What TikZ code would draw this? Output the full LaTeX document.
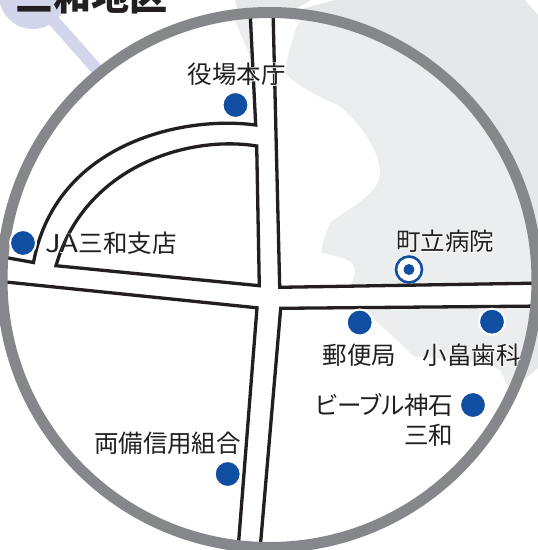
\documentclass[tikz,border=0pt]{standalone}
\usepackage{fontspec}
\setmainfont{Noto Sans CJK JP}
\definecolor{ringgray}{HTML}{85878A}
\definecolor{outergray}{HTML}{E6E7E9}
\definecolor{innergray}{HTML}{ECEDEF}
\definecolor{lav}{HTML}{D3D5EA}
\definecolor{ink}{HTML}{231F20}
\definecolor{dotblue}{HTML}{0F4EA1}
\newcommand\halotext[1]{\makebox[0pt][l]{\color{white}\addfontfeature{FakeBold=5}#1}#1}
\tikzset{
  road/.style={draw=ink,line width=3.3pt,line join=miter,miter limit=10},
  place/.style={circle,fill=dotblue,draw=white,line width=2pt,minimum size=26pt,inner sep=0pt},
  lbl/.style={inner sep=0pt,text=ink,font=\fontsize{24.5}{27}\selectfont},
}
\begin{document}
\begin{tikzpicture}[x=1pt,y=-1pt]
\clip (0,0) rectangle (538,550);
\fill[white] (0,0) rectangle (538,550);
% title
\fill[lav] (33,-5) circle (34);
\draw[lav,line width=12pt] (40,5) -- (100,73);
\node[inner sep=0pt,anchor=base west,text=ink,font=\fontsize{38}{38}\bfseries\selectfont] (title) at (15,10.5) {三和地区};
% land outside ring
\fill[outergray] (235,0) -- (311,0) -- (297,8) -- (270,40) -- (245,40) -- cycle;
\fill[outergray] (335,0) -- (305,8) -- (300,40) -- (400,300) -- (490,390) -- (526,378) -- (538,368) -- (538,15) -- (525,0) -- cycle;
% interior
\coordinate (c) at (269.5,280);
\fill[white] (c) circle (265);
\begin{scope}
\clip (c) circle (265);
\fill[innergray] (233,15) -- (253,64) -- (253,15) -- cycle;
\fill[innergray] (306,10) .. controls (296,25) and (290,42) .. (285,73)
  .. controls (300,88) and (325,100) .. (338,105)
  .. controls (358,120) and (380,150) .. (380,173)
  .. controls (380,195) and (345,210) .. (331,222)
  .. controls (326,232) and (323,242) .. (321,252)
  .. controls (335,257) and (355,258) .. (355,270)
  .. controls (355,276) and (352,280) .. (350,290)
  -- (360,300) -- (372,317) -- (415,357) -- (470,360) -- (491,365) -- (500,370) -- (510,390)
  -- (560,390) -- (560,0) -- (310,0) -- cycle;
\fill[white] (280,287.5) -- (545,283) -- (545,306) -- (280,308.5) -- cycle;
\draw[road] (250,10) -- (255.7,125)
  .. controls (180,115) and (55,145) .. (33.5,262.5)
  -- (0,256.5);
\draw[road] (56,265.7) .. controls (85,165) and (190,135) .. (256.7,146)
  -- (259.3,285.7) -- cycle;
\draw[road] (0,281.4) -- (257,307.8) -- (238,550);
\draw[road] (273,10) -- (279.7,287.3) -- (545,283);
\draw[road] (545,306) -- (280.7,308.3) -- (260,550);
\end{scope}
\draw[ringgray,line width=11pt] (c) circle (267.5);
% places
\node[place] (p1) at (235.5,105) {};
\node[place] (p2) at (23,243) {};
\node[place] (p4) at (359.7,322.5) {};
\node[place] (p5) at (492,321.7) {};
\node[place] (p6) at (473,405) {};
\node[place] (p7) at (227.7,474) {};
\node[circle,draw=dotblue,fill=white,line width=2.6pt,minimum size=26pt,inner sep=0pt] (p3) at (409,269.5) {};
\fill[dotblue] (p3.center) circle (5.5);
% labels
\node[lbl] (l1) at (236.5,74) {\halotext{役場本庁}};
\node[lbl,anchor=west] (l2) at (45,243) {\halotext{\scalebox{1.2}[1]{JA}三和支店}};
\node[lbl] (l3) at (445,241) {\halotext{町立病院}};
\node[lbl] (l4) at (359.5,355) {\halotext{郵便局}};
\node[lbl] (l5) at (471.5,355) {\halotext{小畠歯科}};
\node[lbl,anchor=east] (l6) at (453.5,405) {\addfontfeature{RawFeature=+palt}\halotext{ビーブル神石}};
\node[lbl,anchor=east] (l7) at (453.5,435) {\halotext{三和}};
\node[lbl] (l8) at (167.5,443) {\halotext{両備信用組合}};
\end{tikzpicture}
\end{document}
